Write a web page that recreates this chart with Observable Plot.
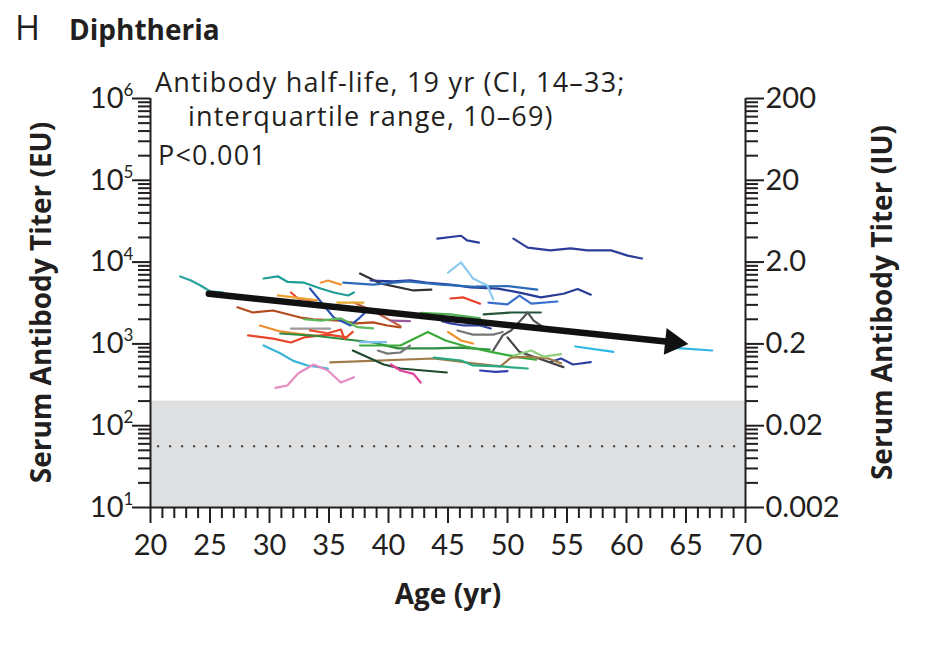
<!DOCTYPE html>
<html><head><meta charset="utf-8">
<script src="https://cdn.jsdelivr.net/npm/d3@7"></script>
<script src="https://cdn.jsdelivr.net/npm/@observablehq/plot@0.6"></script>
<style>
body{margin:0;background:#fff}
#wrap{width:933px;height:650px}
</style></head><body><div id="wrap"></div>
<script>
// ---- data ----
const lineColors = [
  "#2aa39b","#1f9e96","#b24a1c","#c0603a","#f39433","#e8452c","#f0a030","#e8a830",
  "#f08a30","#e8452c","#9a9a9a","#2e8b40","#3ab4d6","#e58cc0","#2a55b5","#5cb85c",
  "#e84a2a","#333333","#283c96","#2a6ab8","#8ccbee","#3a70d0","#e8402a","#2c3e9a",
  "#2c3e9a","#2fb6e6","#2fb6e6","#3040a0","#24553a","#555555","#444444","#777777",
  "#f0902a","#3040a0","#3aaa3a","#a07a48","#1e4a30","#e0409a","#2aa880","#3040b0",
  "#7cc0ef","#777777","#9a5a9a","#90cf80","#4caf50"
];
const lineAges = [
  [22.5,23.4,24.2,25.0,26.1],
  [29.5,30.7,31.5,32.9,34.3,35.4,36.6,37.1],
  [27.3,28.6,30.3,32.6,33.7,35.9,37.3,38.7,39.9,41.0],
  [37.1,39.0,41.0],
  [34.3,34.9,36.0],
  [31.8,32.4,33.7],
  [30.7,34.0],
  [35.7,37.9],
  [29.2,30.9,32.3,33.0,34.3],
  [28.2,30.3,31.8,32.9,34.9,36.5],
  [31.8,35.1],
  [30.9,34.0,38.7,40.8,43.8,46.1,48.5],
  [29.5,30.9,32.0,33.2,34.9],
  [30.5,31.5,32.4,33.7,34.9,36.0,37.1],
  [33.4,34.3,35.4,36.8,37.6,38.2],
  [32.9,34.3,36.0,37.4,38.7],
  [33.4,34.9,36.0,36.3,37.0],
  [37.6,39.3,42.1,43.6],
  [38.5,40.4,41.8,43.2,45.2,46.9,49.2,51.1,52.8,54.7,55.9,57.0],
  [36.2,38.7,41.6,44.4,47.3,50.0,52.5],
  [45.0,46.1,47.1,48.3,48.8],
  [48.4,50.0,51.0,52.0,54.2],
  [45.2,46.3,47.7],
  [44.1,46.1,46.6,47.6],
  [50.5,51.7,53.6,55.3,56.7,58.7,60.1,61.3],
  [55.7,58.9],
  [63.7,67.2],
  [53.6,54.5,55.5,57.0],
  [48.0,50.3,51.7,52.8],
  [48.8,49.6,50.3,51.1,51.7,52.2,53.0],
  [50.0,51.0,52.8,54.7],
  [45.8,47.1,48.8,49.6],
  [45.0,46.1,47.1],
  [44.5,45.2,46.3,47.7,48.6],
  [37.6,41.0,43.3,44.8,46.5,48.6,51.1,52.4],
  [35.1,43.8,47.1,49.4,50.3,51.7,53.4,54.5],
  [37.0,39.6,41.0,44.9],
  [40.2,41.0,42.1,42.7],
  [43.8,46.1,47.1,49.4,51.7],
  [47.7,49.0,50.0],
  [37.6,39.8],
  [39.1,39.9,41.0,41.8],
  [40.2,41.8],
  [50.5,52.0,53.0,54.5],
  [42.7,45.2,47.7]
];
const lineTiters = [
  [6670,5960,5180,4400,4250],
  [6300,6700,5740,5600,4760,4250,3910,4250],
  [2800,2420,2560,2100,2000,1930,1780,1830,1680,1590],
  [3200,2400,1650],
  [5600,5960,5300],
  [4250,3590,3400],
  [3910,3400],
  [3200,3200],
  [1680,1420,1340,1300,1250],
  [1270,1160,1040,1200,1300,1200],
  [1540,1540],
  [1340,1250,1040,880,880,900,850],
  [956,770,620,545,500],
  [290,310,435,560,473,337,390],
  [4760,3300,2100,1680,2100,2560],
  [2000,1930,2050,1600,1550],
  [1460,1350,1500,1150,1400],
  [7250,5500,4500,4600],
  [5960,5800,6000,5600,5300,4900,4750,4200,3700,4100,4700,4000],
  [5600,5300,5800,5300,5000,5100,4600],
  [7460,9890,6310,5180,3500],
  [3200,3050,3900,3100,3300],
  [3590,3700,3100],
  [19400,21000,18400,17300],
  [19400,15000,13900,14700,13900,13900,12000,11070],
  [930,800],
  [900,830],
  [600,663,560,600],
  [2290,2420,2420,2420],
  [830,1270,1460,1930,2420,1930,1600],
  [1200,800,650,520],
  [1460,1300,1300,1400],
  [1400,1100,1010],
  [1900,1780,1680,1680,1540],
  [956,956,1400,1100,930,800,680,640],
  [593,663,580,530,680,700,663,580],
  [830,560,500,447],
  [560,473,430,337],
  [680,627,545,530,500],
  [473,455,465],
  [1050,1050],
  [830,760,785,950],
  [1930,1900],
  [720,830,700,750],
  [2400,2290,2050]
];
// regression arrow (start/end)
const trendAges = [24.9, 65.2];
const trendTiters = [4100, 1000];
// thresholds
const protectiveLimit = 200;   // top of shaded band (EU)
const dottedLevel = 56;        // dotted reference line (EU)
// ticks
const xMajor = [20,25,30,35,40,45,50,55,60,65,70];
const yMajor = [10,100,1000,10000,100000,1000000];
const yExponents = ["1","2","3","4","5","6"];
const iuLabels = ["0.002","0.02","0.2","2.0","20","200"];
const annotation = ["Antibody half-life, 19 yr (CI, 14\u201333;","interquartile range, 10\u201369)","P<0.001"];

// ---- layout ----
const W = 933, H = 650, ML = 150, MR = 188, MT = 98, MB = 143;

// ---- build tables ----
const points = [];
lineAges.forEach((ages, i) => ages.forEach((a, j) =>
  points.push({id: i, age: a, titer: lineTiters[i][j], color: lineColors[i]})));
const xMinor = d3.range(20, 71).filter(v => v % 5 !== 0);
const yMinor = [];
for (let k = 1; k < 6; k++) for (let m = 2; m <= 9; m++) yMinor.push(m * Math.pow(10, k));
const iuMap = new Map(yMajor.map((v, i) => [v, iuLabels[i]]));
const expMap = new Map(yMajor.map((v, i) => [v, yExponents[i]]));

// arrow head geometry (in screen space, converted back through the scale ratios)
const pxYear = (W - ML - MR) / 50, pxDec = (H - MT - MB) / 5;
const theta = Math.atan2(Math.log10(trendTiters[0] / trendTiters[1]) * pxDec, (trendAges[1] - trendAges[0]) * pxYear);
const headR = 10;
const back = 2 * Math.sqrt(Math.PI * headR * headR / (3 * Math.sqrt(3)));
const headAge = trendAges[1] - back * Math.cos(theta) / pxYear;
const headTiter = trendTiters[1] * Math.pow(10, back * Math.sin(theta) / pxDec);
const shaft = [{age: trendAges[0], titer: trendTiters[0]}, {age: headAge, titer: headTiter}];

const ink = "#231f20";
const F = "Lato, 'Open Sans', sans-serif";
const FT = "'Open Sans', Lato, sans-serif";

const chart = Plot.plot({
  width: W, height: H,
  marginTop: MT, marginBottom: MB, marginLeft: ML, marginRight: MR,
  x: {domain: [20, 70], label: null},
  y: {type: "log", domain: [10, 1e6], label: null},
  color: {type: "identity"},
  style: {fontFamily: F, color: ink, background: "#fff", overflow: "visible"},
  marks: [
    Plot.rect([{x1: 20, x2: 70, y1: 10, y2: protectiveLimit}], {x1: "x1", x2: "x2", y1: "y1", y2: "y2", fill: "#dedfe1"}),
    Plot.ruleY([dottedLevel], {x1: 20.6, x2: 70, stroke: "#333", strokeWidth: 2, strokeDasharray: "2,10"}),
    Plot.line(points, {x: "age", y: "titer", z: "id", stroke: "color", strokeWidth: 2.2}),
    Plot.line(shaft, {x: "age", y: "titer", stroke: "#111", strokeWidth: 6.5}),
    Plot.dot([{age: headAge, titer: headTiter}], {x: "age", y: "titer", symbol: "triangle", r: headR, fill: "#111", stroke: "none", rotate: 90 + theta * 180 / Math.PI}),
    // axis lines
    Plot.ruleX([20], {stroke: ink, strokeWidth: 2}),
    Plot.ruleX([70], {stroke: ink, strokeWidth: 2}),
    Plot.ruleY([10], {stroke: ink, strokeWidth: 2}),
    // x axis
    Plot.axisX({ticks: xMinor, tickSize: 11, tickFormat: () => "", strokeWidth: 2, label: null}),
    Plot.axisX({ticks: xMajor, tickSize: 16, tickPadding: 11, tickFormat: d => String(d), strokeWidth: 2, fontSize: 29, label: null, fill: ink}),
    // left y axis
    Plot.axisY({anchor: "left", ticks: yMinor, tickSize: 12, tickFormat: () => "", strokeWidth: 2, label: null}),
    Plot.axisY({anchor: "left", ticks: yMajor, tickSize: 18, tickFormat: () => "", strokeWidth: 2, label: null}),
    Plot.text(yMajor, {frameAnchor: "left", y: d => d, text: () => "10", textAnchor: "end", dx: -27, fontSize: 29, fill: ink}),
    Plot.text(yMajor, {frameAnchor: "left", y: d => d, text: d => expMap.get(d), textAnchor: "start", dx: -27, dy: -8, fontSize: 17, fill: ink}),
    // right y axis
    Plot.axisY({anchor: "right", ticks: yMinor, tickSize: 12, tickFormat: () => "", strokeWidth: 2, label: null}),
    Plot.axisY({anchor: "right", ticks: yMajor, tickSize: 18, tickFormat: () => "", strokeWidth: 2, label: null}),
    Plot.text(yMajor, {frameAnchor: "right", y: d => d, text: d => iuMap.get(d), textAnchor: "start", dx: 20, fontSize: 29, fill: ink}),
    // x title
    Plot.text(["Age (yr)"], {frameAnchor: "bottom", dy: 96, fontSize: 28, fontWeight: "bold", fontFamily: FT, fill: ink})
  ]
});
document.getElementById("wrap").appendChild(chart);

const svg = d3.select(chart);
// panel title
svg.append("text").attr("x", 15).attr("y", 40).attr("text-anchor", "start").attr("font-family", FT)
  .attr("font-size", 34).attr("fill", ink).text("H");
svg.append("text").attr("x", 69).attr("y", 40).attr("text-anchor", "start").attr("font-family", FT)
  .attr("font-size", 28).attr("font-weight", "bold").attr("fill", ink).text("Diphtheria");
// annotation
[[annotation[0], 155, 92], [annotation[1], 188, 126], [annotation[2], 158, 165]].forEach(([t, x, y]) => {
  svg.append("text").attr("x", x).attr("y", y).attr("text-anchor", "start").attr("font-family", FT)
    .attr("font-size", 27).attr("letter-spacing", "1.2px").attr("fill", ink).text(t);
});
// rotated axis titles
const midY = MT + (H - MT - MB) / 2;
[["Serum Antibody Titer (EU)", 41], ["Serum Antibody Titer (IU)", 882]].forEach(([t, x]) => {
  svg.append("text")
    .attr("transform", `translate(${x},${midY}) rotate(-90)`)
    .attr("text-anchor", "middle").attr("dy", "0.35em")
    .attr("font-family", FT).attr("font-weight", "bold").attr("font-size", 28)
    .attr("fill", ink).text(t);
});
</script>
</body></html>
